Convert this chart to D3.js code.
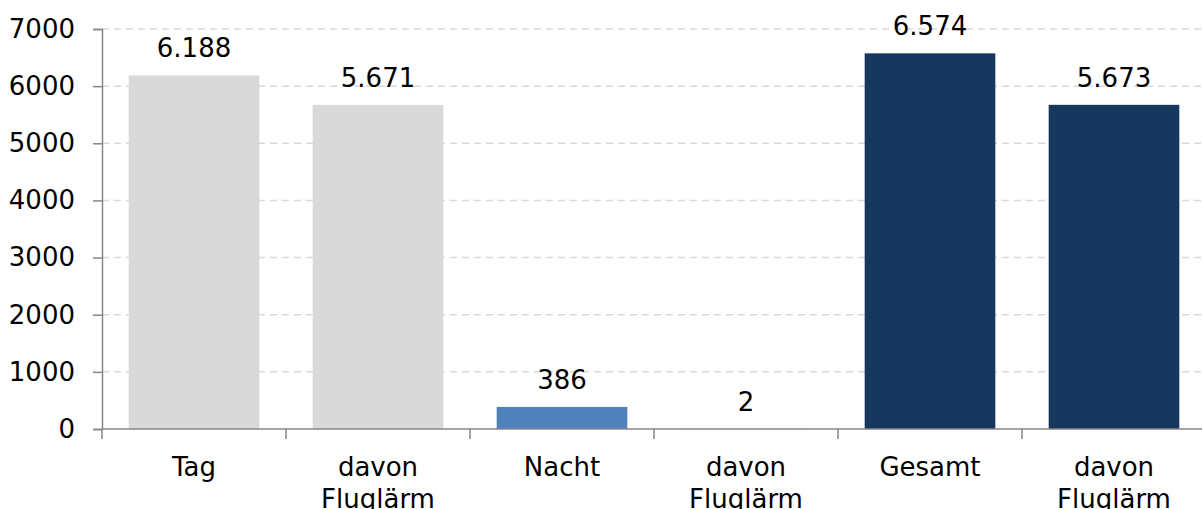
<!DOCTYPE html>
<html>
<head>
<meta charset="utf-8">
<script src="https://cdn.jsdelivr.net/npm/d3@7"></script>
<style>
  body { margin: 0; background: #fff; }
  svg text { font-family: "DejaVu Sans", Verdana, sans-serif; fill: #000; }
</style>
</head>
<body>
<main></main>
<script>
"use strict";

//Data
const categories = ["Tag", "davon Fluglärm", "Nacht", "davon Fluglärm ", "Gesamt", "davon Fluglärm  "];
const labelLines = [["Tag"], ["davon", "Fluglärm"], ["Nacht"], ["davon", "Fluglärm"], ["Gesamt"], ["davon", "Fluglärm"]];
const values = [6188, 5671, 386, 2, 6574, 5673];
const barColors = ["#d9d9d9", "#d9d9d9", "#4f81bd", "#4f81bd", "#17375e", "#17375e"];
const yTicks = [0, 1000, 2000, 3000, 4000, 5000, 6000, 7000];

const w = 1202;
const h = 509;
const margin = { top: 29, bottom: 80, left: 102, right: -4 };
const fontSize = 26;

const svg = d3.select("main").append("svg").attr("width", w).attr("height", h);
const container = svg.append("g").attr("transform", `translate(${margin.left}, ${margin.top})`);

const innerW = w - margin.left - margin.right;
const innerH = h - margin.top - margin.bottom;

const xScale = d3.scaleBand().domain(categories).range([0, innerW]).paddingInner(0.29).paddingOuter(0.145);
const yScale = d3.scaleLinear().domain([0, 7000]).range([innerH, 0]);

//Grid lines
container
  .append("g")
  .selectAll("line")
  .data(yTicks.filter((d) => d > 0))
  .enter()
  .append("line")
  .attr("x1", 0)
  .attr("x2", w - margin.left)
  .attr("y1", (d) => yScale(d))
  .attr("y2", (d) => yScale(d))
  .attr("stroke", "#d9d9d9")
  .attr("stroke-width", 1.5)
  .attr("stroke-dasharray", "7,5");

//Bars
container
  .selectAll("rect")
  .data(values)
  .enter()
  .append("rect")
  .attr("x", (d, i) => xScale(categories[i]))
  .attr("width", xScale.bandwidth())
  .attr("y", (d) => yScale(d))
  .attr("height", (d) => innerH - yScale(d))
  .attr("fill", (d, i) => barColors[i]);

//Value labels
container
  .append("g")
  .selectAll("text")
  .data(values)
  .enter()
  .append("text")
  .attr("x", (d, i) => xScale(categories[i]) + xScale.bandwidth() / 2)
  .attr("y", (d) => yScale(d) - 18)
  .attr("text-anchor", "middle")
  .style("font-size", `${fontSize}px`)
  .text((d) => d3.format(",")(d).replace(/,/g, "."));

//Y axis
const yAxis = d3.axisLeft(yScale).tickValues(yTicks).tickFormat(d3.format("d")).tickSize(9).tickPadding(18);
container
  .append("g")
  .call(yAxis)
  .call((g) => g.selectAll("line, path").attr("stroke", "#868686").attr("stroke-width", 1.5))
  .call((g) => g.selectAll("line").attr("x2", -9))
  .call((g) => g.selectAll("text").attr("x", -27).style("font-size", `${fontSize}px`).attr("fill", "#000"));

//X axis
const step = xScale.step();
const xAxisG = container.append("g").attr("transform", `translate(0, ${innerH})`);
xAxisG
  .append("line")
  .attr("x1", 0)
  .attr("x2", w - margin.left)
  .attr("stroke", "#868686")
  .attr("stroke-width", 1.5);
xAxisG
  .selectAll(".tick")
  .data(d3.range(categories.length + 1))
  .enter()
  .append("line")
  .attr("x1", (i) => i * step)
  .attr("x2", (i) => i * step)
  .attr("y1", 0)
  .attr("y2", 10)
  .attr("stroke", "#868686")
  .attr("stroke-width", 1.5);

const xLabels = xAxisG
  .selectAll(".xlabel")
  .data(categories)
  .enter()
  .append("text")
  .attr("text-anchor", "middle")
  .attr("transform", (d) => `translate(${xScale(d) + xScale.bandwidth() / 2}, 47)`)
  .style("font-size", `${fontSize}px`);

xLabels
  .selectAll("tspan")
  .data((d, i) => labelLines[i])
  .enter()
  .append("tspan")
  .attr("x", 0)
  .attr("y", (d, i) => i * 32)
  .text((d) => d);
</script>
</body>
</html>
